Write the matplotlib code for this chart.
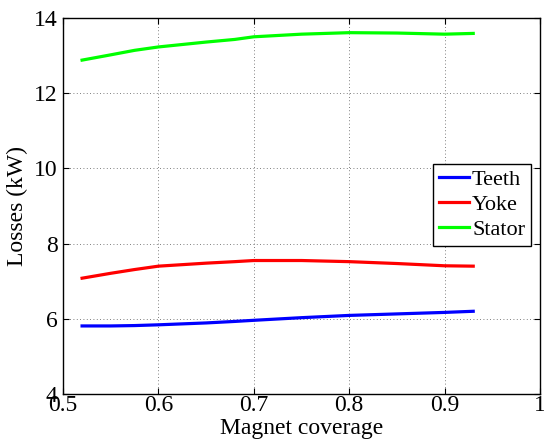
import matplotlib
matplotlib.use("Agg")
import matplotlib.pyplot as plt

coverage = [0.52, 0.55, 0.575, 0.60, 0.65, 0.68, 0.70, 0.75, 0.80, 0.85, 0.90, 0.93]
teeth = [5.81, 5.81, 5.82, 5.84, 5.89, 5.93, 5.96, 6.03, 6.09, 6.13, 6.17, 6.20]
yoke = [7.08, 7.21, 7.31, 7.40, 7.48, 7.52, 7.55, 7.55, 7.52, 7.47, 7.41, 7.40]
stator = [12.88, 13.02, 13.14, 13.23, 13.36, 13.43, 13.50, 13.57, 13.61, 13.60, 13.57, 13.59]

plt.rcParams['font.family'] = ['Liberation Serif', 'DejaVu Serif']

fig = plt.figure(figsize=(5.44, 4.46), dpi=100)
ax = fig.add_axes([63/544, 1-394/446, 477/544, 376/446])

lw = 2.3
ax.plot(coverage, teeth, color='#0000ff', lw=lw, label='Teeth')
ax.plot(coverage, yoke, color='#ff0000', lw=lw, label='Yoke')
ax.plot(coverage, stator, color='#00ff00', lw=lw, label='Stator')

ax.set_xlim(0.5, 1.0)
ax.set_ylim(4, 14)
ax.set_xticks([0.5, 0.6, 0.7, 0.8, 0.9, 1.0])
ax.set_xticklabels(['0.5', '0.6', '0.7', '0.8', '0.9', '1'])
ax.set_yticks([4, 6, 8, 10, 12, 14])
ax.grid(True, linestyle=(0, (1, 3)), color='#555555', lw=0.6)
ax.tick_params(direction='in', top=True, right=True, labelsize=17, length=4, width=0.8)
ax.tick_params(axis='x', pad=1)
ax.tick_params(axis='y', pad=4)
for s in ax.spines.values():
    s.set_linewidth(1.0)

ax.set_xlabel('Magnet coverage', fontsize=17, labelpad=1)
ax.set_ylabel('Losses (kW)', fontsize=17, labelpad=4)

leg = ax.legend(loc='upper left', bbox_to_anchor=(0.776, 0.612), borderaxespad=0,
                fontsize=16, fancybox=False, framealpha=1, edgecolor='black',
                handlelength=1.35, handletextpad=0.15, labelspacing=0.2,
                borderpad=0.25)
leg.get_frame().set_linewidth(1.0)

fig.savefig('out.png', dpi=100)
